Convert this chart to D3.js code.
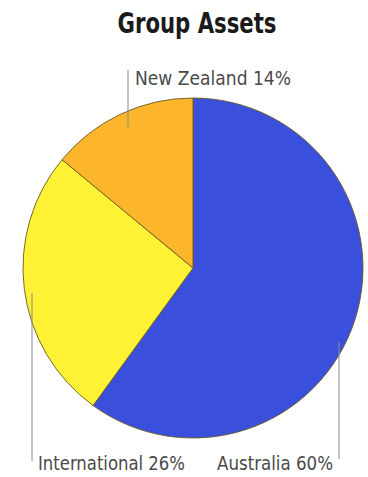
<!DOCTYPE html>
<html>
<head>
<meta charset="utf-8">
<script src="https://cdn.jsdelivr.net/npm/d3@7/dist/d3.min.js"></script>
<style>
  html, body { margin: 0; padding: 0; background: #ffffff; }
  svg { display: block; }
</style>
</head>
<body>
<script>
// Group asset split by region (percent)
const regions = ["Australia", "International", "New Zealand"];
const shares = [60, 26, 14];
const colors = ["#3a50dc", "#fff234", "#fdb52c"];
const title = "Group Assets";

const width = 368, height = 477;
const cx = 193, cy = 268, radius = 170;

const svg = d3.select("body").append("svg")
  .attr("width", width)
  .attr("height", height);

svg.append("text")
  .attr("x", 197)
  .attr("y", 33)
  .attr("text-anchor", "middle")
  .attr("font-family", "'Liberation Sans Narrow', 'DejaVu Sans Condensed', sans-serif")
  .attr("font-weight", "bold")
  .attr("font-size", 29)
  .attr("fill", "#1a1a1a")
  .attr("textLength", 159)
  .attr("lengthAdjust", "spacingAndGlyphs")
  .text(title);

const data = regions.map((r, i) => ({ region: r, share: shares[i], color: colors[i] }));

const pie = d3.pie().value(d => d.share).sort(null);
const arcs = pie(data);
const arc = d3.arc().innerRadius(0).outerRadius(radius);

const g = svg.append("g").attr("transform", `translate(${cx},${cy})`);

g.selectAll("path")
  .data(arcs)
  .join("path")
  .attr("d", arc)
  .attr("fill", d => d.data.color)
  .attr("stroke", "#6a5a24")
  .attr("stroke-width", 0.9)
  .attr("stroke-linejoin", "round");

// Leader lines and labels: each line rises or drops from a point inside its slice
const labelFont = "'DejaVu Sans Condensed', 'Liberation Sans', sans-serif";
const leaders = [
  { i: 2, x: 128, y1: 127, y2: 70, tx: 135, ty: 85, len: 156, anchor: "start" },
  { i: 1, x: 32, y1: 293, y2: 461, tx: 38, ty: 470, len: 147, anchor: "start" },
  { i: 0, x: 339, y1: 342, y2: 459, tx: 217, ty: 470, len: 116, anchor: "start" }
];

leaders.forEach(l => {
  svg.append("line")
    .attr("x1", l.x).attr("x2", l.x)
    .attr("y1", l.y1).attr("y2", l.y2)
    .attr("stroke", "#8a8a8a")
    .attr("stroke-width", 1);
  svg.append("text")
    .attr("x", l.tx)
    .attr("y", l.ty)
    .attr("text-anchor", l.anchor)
    .attr("font-family", labelFont)
    .attr("font-size", 19)
    .attr("fill", "#4a4a4a")
    .attr("textLength", l.len)
    .attr("lengthAdjust", "spacingAndGlyphs")
    .text(`${data[l.i].region} ${data[l.i].share}%`);
});
</script>
</body>
</html>
